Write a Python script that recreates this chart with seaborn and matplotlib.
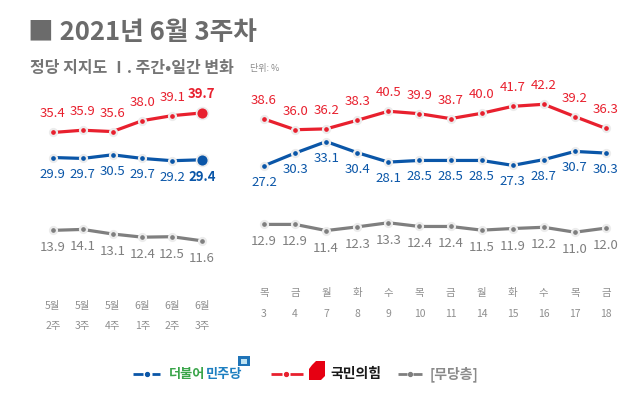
import matplotlib
matplotlib.use('Agg')
import matplotlib.pyplot as plt
import seaborn as sns
import pandas as pd
from matplotlib.patches import Polygon, Rectangle

# 주간 데이터
weekly_labels = ['5월\n2주', '5월\n3주', '5월\n4주', '6월\n1주', '6월\n2주', '6월\n3주']
weekly_minjoo = [29.9, 29.7, 30.5, 29.7, 29.2, 29.4]
weekly_ppp = [35.4, 35.9, 35.6, 38.0, 39.1, 39.7]
weekly_none = [13.9, 14.1, 13.1, 12.4, 12.5, 11.6]

# 일간 데이터
daily_labels = ['목\n3', '금\n4', '월\n7', '화\n8', '수\n9', '목\n10',
                '금\n11', '월\n14', '화\n15', '수\n16', '목\n17', '금\n18']
daily_minjoo = [27.2, 30.3, 33.1, 30.4, 28.1, 28.5, 28.5, 28.5, 27.3, 28.7, 30.7, 30.3]
daily_ppp = [38.6, 36.0, 36.2, 38.3, 40.5, 39.9, 38.7, 40.0, 41.7, 42.2, 39.2, 36.3]
daily_none = [12.9, 12.9, 11.4, 12.3, 13.3, 12.4, 12.4, 11.5, 11.9, 12.2, 11.0, 12.0]

BLUE = '#0a56a8'
RED = '#e8202e'
GRAY = '#7f7f7f'
TICK = '#8f8f8f'

sns.set_theme(style='white')
plt.rcParams['font.family'] = ['Noto Sans CJK KR', 'DejaVu Sans']

fig = plt.figure(figsize=(6.4, 4.17), dpi=100)
W, H = 640, 417


def px_axes(left, bottom, width, height):
    return fig.add_axes([left / W, 1 - bottom / H, width / W, height / H])


def draw_panel(ax, labels, series, big_last, tick_pad):
    x = list(range(len(labels)))
    for vals, color, offset, va in series:
        df = pd.DataFrame({'x': x, 'y': vals})
        sns.lineplot(data=df, x='x', y='y', ax=ax, color=color, lw=2.3,
                     marker='o', markersize=5, markeredgecolor='#ececec',
                     markeredgewidth=1.6, zorder=3)
        for i, v in enumerate(vals):
            last = big_last and i == len(vals) - 1 and color != GRAY
            ax.annotate(f'{v:.1f}', (i, v), xytext=(0, offset),
                        textcoords='offset pixels', ha='center', va=va,
                        color=color, fontsize=9.5,
                        fontweight='bold' if last else 'medium')
        if big_last and color != GRAY:
            ax.plot(x[-1], vals[-1], 'o', color=color, markersize=8.5,
                    markeredgecolor='#ececec', markeredgewidth=1.2, zorder=4)
    ax.set_xlim(-0.5, len(labels) - 0.5)
    ax.set_ylim(0, 45)
    ax.set_xticks(x)
    ax.set_xticklabels(labels, color=TICK, fontsize=7.5, linespacing=2.35)
    ax.tick_params(axis='x', length=0, pad=tick_pad)
    ax.set_yticks([])
    ax.set_xlabel('')
    ax.set_ylabel('')
    for s in ax.spines.values():
        s.set_visible(False)
    ax.patch.set_alpha(0)


ax_w = px_axes(38, 293.6, 178.8, 204.8)
draw_panel(ax_w, weekly_labels,
           [(weekly_ppp, RED, 12, 'bottom'),
            (weekly_minjoo, BLUE, -10, 'top'),
            (weekly_none, GRAY, -11, 'top')],
           True, 5)

ax_d = px_axes(248.5, 277.3, 373, 184.5)
draw_panel(ax_d, daily_labels,
           [(daily_ppp, RED, 12, 'bottom'),
            (daily_minjoo, BLUE, -10, 'top'),
            (daily_none, GRAY, -11, 'top')],
           False, 8)

# 제목
fig.text(28 / W, 1 - 33 / H, '■ 2021년 6월 3주차', fontsize=18.5, fontweight='bold',
         color='#6b6b6b', va='center', ha='left')
fig.text(30 / W, 1 - 68 / H, '정당 지지도 Ⅰ. 주간•일간 변화', fontsize=11.5,
         fontweight='bold', color='#757575', va='center', ha='left')
fig.text(250 / W, 1 - 69 / H, '단위: %', fontsize=6.5, color='#8a8a8a',
         va='center', ha='left')

# 범례
lg = fig.add_axes([0, 0, 1, 1])
lg.set_xlim(0, W)
lg.set_ylim(H, 0)
lg.axis('off')
lg.patch.set_alpha(0)
for a0, a1, dot, b0, b1, color in [(133, 143, 147, 152, 160, BLUE),
                                   (271, 282, 286, 290, 303, RED),
                                   (398, 407, 410, 413, 422, GRAY)]:
    lg.plot([a0, a1], [374, 374], color=color, lw=2, solid_capstyle='butt')
    lg.plot([b0, b1], [374, 374], color=color, lw=2, solid_capstyle='butt')
    lg.plot(dot, 374, 'o', color=color, markersize=2.8)
t1 = lg.text(169, 374, '더불어', color='#3aa54a', fontsize=9.5, fontweight='bold', va='center')
lg.annotate('민주당', xy=(1, 0.5), xycoords=t1, xytext=(0.5, 0), textcoords='offset pixels',
            color='#1d7fc0', fontsize=9.5, fontweight='bold', va='center', ha='left')
lg.add_patch(Rectangle((238, 356), 12, 10, facecolor='#1f74b8', edgecolor='none'))
lg.add_patch(Rectangle((241, 358.5), 6, 5, facecolor='#bfe3f2', edgecolor='none'))
lg.add_patch(Polygon([(312, 365), (316, 361), (325, 361), (325, 376), (321, 380), (309, 380), (309, 369)],
                     facecolor='#e60012', edgecolor='none'))
lg.text(330, 374, '국민의힘', color='#1a1a1a', fontsize=10, fontweight='bold', va='center')
lg.text(430, 374, '[무당층]', color='#8a8a8a', fontsize=10, fontweight='bold', va='center')

fig.savefig('out.png', dpi=100, facecolor='white')
